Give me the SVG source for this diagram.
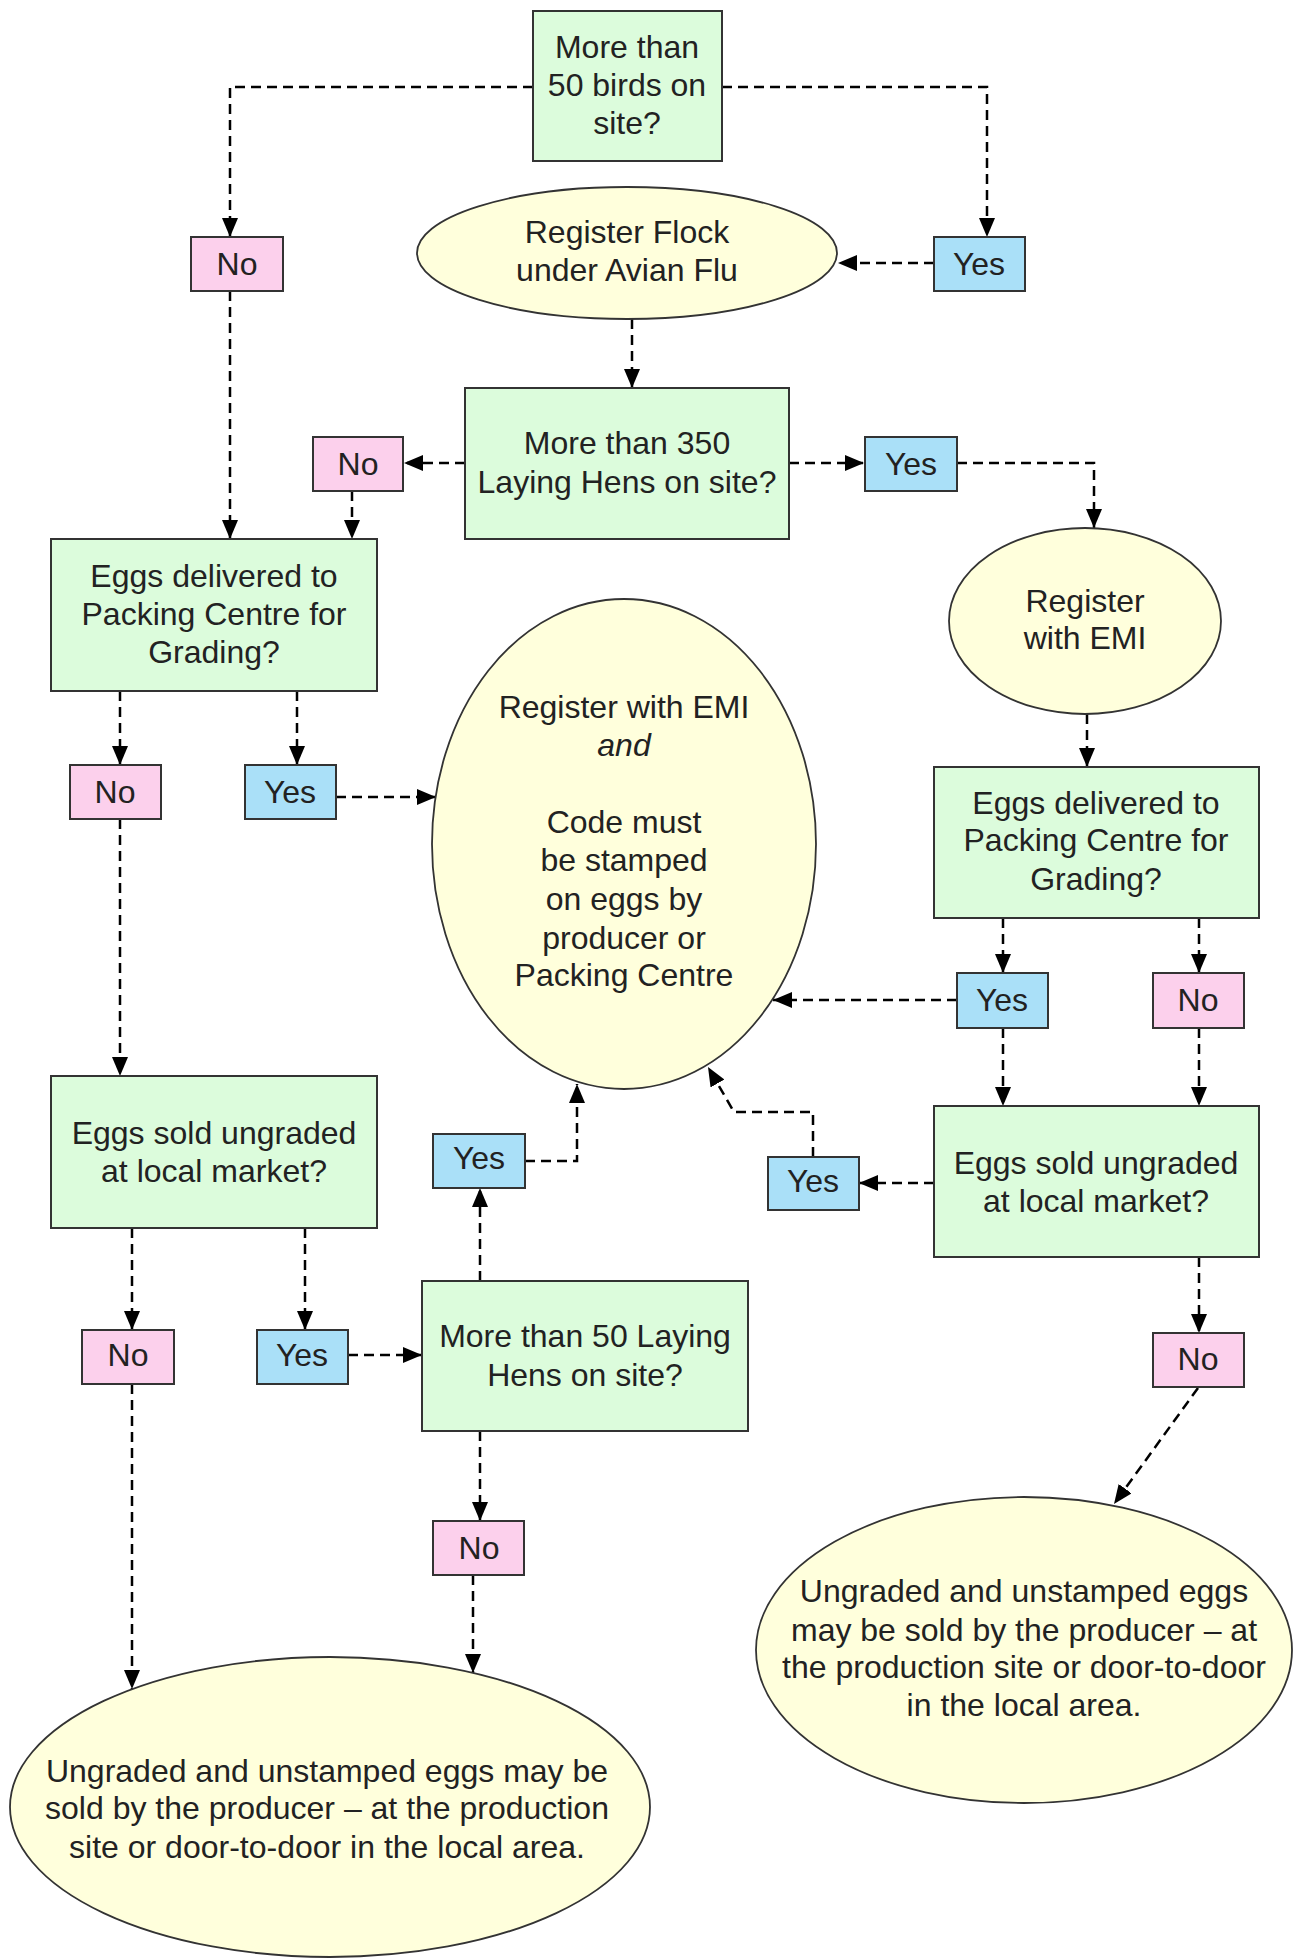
<svg xmlns="http://www.w3.org/2000/svg" width="1295" height="1959" viewBox="0 0 1295 1959">
<defs>
<marker id="ah" markerUnits="userSpaceOnUse" markerWidth="20" markerHeight="18" refX="19" refY="8" orient="auto">
<path d="M0,0 L19,8 L0,16 z" fill="#000"/>
</marker>
<style>
.dec{fill:#dcfcdc;stroke:#333;stroke-width:2}
.yes{fill:#aae0f8;stroke:#333;stroke-width:2}
.no{fill:#fcd0ec;stroke:#333;stroke-width:2}
.ell{fill:#ffffdc;stroke:#333;stroke-width:1.8}
text{font-family:"Liberation Sans",Arial,sans-serif;font-size:32px;fill:#222;text-anchor:middle}
.c{fill:none;stroke:#000;stroke-width:2.5;stroke-dasharray:10,6;marker-end:url(#ah)}
</style>
</defs>
<rect width="1295" height="1959" fill="#fff"/>
<g id="connectors">
<path class="c" d="M533,87 H230 V237"/>
<path class="c" d="M722,87 H987 V237"/>
<path class="c" d="M934,263 H838"/>
<path class="c" d="M632,319 V388"/>
<path class="c" d="M465,463 H404"/>
<path class="c" d="M789,463 H864"/>
<path class="c" d="M957,463 H1094 V528"/>
<path class="c" d="M230,291 V539"/>
<path class="c" d="M352,491 V539"/>
<path class="c" d="M120,691 V765"/>
<path class="c" d="M297,691 V765"/>
<path class="c" d="M336,797 H436"/>
<path class="c" d="M120,819 V1076"/>
<path class="c" d="M1087,714 V767"/>
<path class="c" d="M1003,918 V973"/>
<path class="c" d="M1199,918 V973"/>
<path class="c" d="M957,1000 H773"/>
<path class="c" d="M1003,1028 V1106"/>
<path class="c" d="M1199,1028 V1106"/>
<path class="c" d="M934,1183 H859"/>
<path class="c" d="M813,1157 V1112 H734 L708,1067"/>
<path class="c" d="M132,1228 V1330"/>
<path class="c" d="M305,1228 V1330"/>
<path class="c" d="M348,1355 H422"/>
<path class="c" d="M480,1281 V1188"/>
<path class="c" d="M525,1161 H577 V1084"/>
<path class="c" d="M480,1431 V1521"/>
<path class="c" d="M473,1575 V1673"/>
<path class="c" d="M132,1384 V1689"/>
<path class="c" d="M1199,1257 V1333"/>
<path class="c" d="M1198,1388 L1114,1504"/>
</g>
<g id="n1"><rect class="dec" x="533" y="11" width="189" height="150"/>
<text x="627" y="58">More than</text><text x="627" y="96">50 birds on</text><text x="627" y="134">site?</text></g>
<g id="n2"><ellipse class="ell" cx="627" cy="253" rx="210" ry="66"/>
<text x="627" y="243">Register Flock</text><text x="627" y="281">under Avian Flu</text></g>
<g id="n3"><rect class="no" x="191" y="237" width="92" height="54"/><text x="237" y="275">No</text></g>
<g id="n4"><rect class="yes" x="934" y="237" width="91" height="54"/><text x="979" y="275">Yes</text></g>
<g id="n5"><rect class="dec" x="465" y="388" width="324" height="151"/>
<text x="627" y="454">More than 350</text><text x="627" y="493">Laying Hens on site?</text></g>
<g id="n6"><rect class="no" x="313" y="437" width="90" height="54"/><text x="358" y="475">No</text></g>
<g id="n7"><rect class="yes" x="865" y="437" width="92" height="54"/><text x="911" y="475">Yes</text></g>
<g id="n8"><ellipse class="ell" cx="1085" cy="621" rx="136" ry="93"/>
<text x="1085" y="612">Register</text><text x="1085" y="649">with EMI</text></g>
<g id="n9"><rect class="dec" x="51" y="539" width="326" height="152"/>
<text x="214" y="587">Eggs delivered to</text><text x="214" y="625">Packing Centre for</text><text x="214" y="663">Grading?</text></g>
<g id="n10"><rect class="no" x="70" y="765" width="91" height="54"/><text x="115" y="803">No</text></g>
<g id="n11"><rect class="yes" x="245" y="765" width="91" height="54"/><text x="290" y="803">Yes</text></g>
<g id="n12"><ellipse class="ell" cx="624" cy="844" rx="192" ry="245"/>
<text x="624" y="718">Register with EMI</text><text x="624" y="756" font-style="italic">and</text>
<text x="624" y="833">Code must</text><text x="624" y="871">be stamped</text><text x="624" y="910">on eggs by</text><text x="624" y="949">producer or</text><text x="624" y="986">Packing Centre</text></g>
<g id="n13"><rect class="dec" x="934" y="767" width="325" height="151"/>
<text x="1096" y="814">Eggs delivered to</text><text x="1096" y="851">Packing Centre for</text><text x="1096" y="890">Grading?</text></g>
<g id="n14"><rect class="yes" x="957" y="973" width="91" height="55"/><text x="1002" y="1011">Yes</text></g>
<g id="n15"><rect class="no" x="1153" y="973" width="91" height="55"/><text x="1198" y="1011">No</text></g>
<g id="n16"><rect class="dec" x="51" y="1076" width="326" height="152"/>
<text x="214" y="1144">Eggs sold ungraded</text><text x="214" y="1182">at local market?</text></g>
<g id="n17"><rect class="dec" x="934" y="1106" width="325" height="151"/>
<text x="1096" y="1174">Eggs sold ungraded</text><text x="1096" y="1212">at local market?</text></g>
<g id="n18"><rect class="yes" x="768" y="1157" width="91" height="53"/><text x="813" y="1192">Yes</text></g>
<g id="n19"><rect class="yes" x="433" y="1134" width="92" height="54"/><text x="479" y="1169">Yes</text></g>
<g id="n20"><rect class="no" x="82" y="1330" width="92" height="54"/><text x="128" y="1366">No</text></g>
<g id="n21"><rect class="yes" x="257" y="1330" width="91" height="54"/><text x="302" y="1366">Yes</text></g>
<g id="n22"><rect class="dec" x="422" y="1281" width="326" height="150"/>
<text x="585" y="1347">More than 50 Laying</text><text x="585" y="1386">Hens on site?</text></g>
<g id="n23"><rect class="no" x="433" y="1521" width="91" height="54"/><text x="479" y="1559">No</text></g>
<g id="n24"><rect class="no" x="1153" y="1333" width="91" height="54"/><text x="1198" y="1370">No</text></g>
<g id="n25"><ellipse class="ell" cx="1024" cy="1650" rx="268" ry="153"/>
<text x="1024" y="1602">Ungraded and unstamped eggs</text><text x="1024" y="1641">may be sold by the producer – at</text><text x="1024" y="1678">the production site or door-to-door</text><text x="1024" y="1716">in the local area.</text></g>
<g id="n26"><ellipse class="ell" cx="330" cy="1807" rx="320" ry="150"/>
<text x="327" y="1782">Ungraded and unstamped eggs may be</text><text x="327" y="1819">sold by the producer – at the production</text><text x="327" y="1858">site or door-to-door in the local area.</text></g>
</svg>
